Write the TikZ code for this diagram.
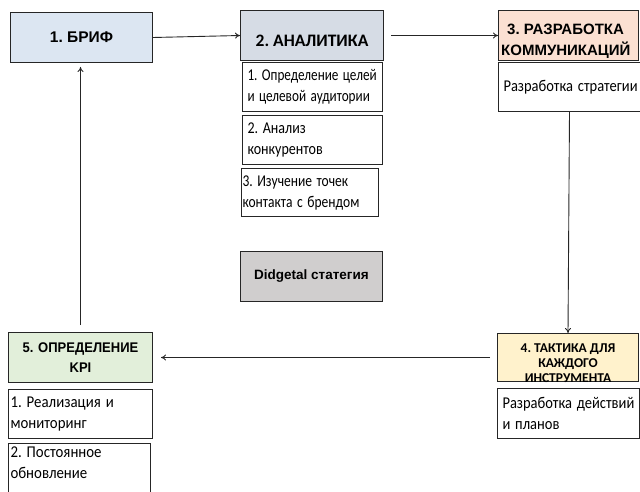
\documentclass[tikz,border=0pt]{standalone}
\usepackage{fontspec}
\usepackage{graphicx}
\setmainfont{Carlito}
\newfontfamily\arialf{Liberation Sans}
\newfontfamily\arialn[FakeStretch=0.93]{Liberation Sans}
\newfontfamily\calf{Carlito}
\newcommand\nar[2][0.85]{\scalebox{#1}[1]{#2}}
\usetikzlibrary{arrows.meta}
\definecolor{cbrief}{HTML}{DCE6F2}
\definecolor{canal}{HTML}{D6DCE5}
\definecolor{crazr}{HTML}{FBE0D2}
\definecolor{ctact}{HTML}{FFF2CC}
\definecolor{ckpi}{HTML}{E2EFDA}
\definecolor{cdig}{HTML}{D0CECE}
\tikzset{
  x=1pt,y=-1pt,
  box/.style={draw=black!85, line width=1pt, anchor=north west, inner sep=3pt},
  hdr/.style={box, align=center},
  lbl/.style={inner sep=0pt, align=center},
  sub/.style={box, fill=white, align=left, text width=#1, inner xsep=5pt, font=\calf\fontsize{16.5}{21}\selectfont},
  arr/.style={draw=black!85, line width=0.9pt, -{To[length=5pt,width=6pt]}}
}
\begin{document}
\frenchspacing
\begin{tikzpicture}
\useasboundingbox (0,0) rectangle (640,492);
% Box 1
\node[hdr, fill=cbrief, minimum width=142pt, minimum height=50pt, font=\arialf\bfseries\fontsize{15.5}{17}\selectfont] (b1) at (10,12) {1. БРИФ};
% Box 2
\node[box, fill=canal, minimum width=143pt, minimum height=50pt] (b2) at (240,10) {};
\node[lbl, font=\calf\bfseries\fontsize{17.5}{20}\selectfont] (b2t) at ([yshift=-5pt]b2.center) {2. АНАЛИТИКА};
\node[sub=130pt, minimum height=49pt] (b2a) at (242,62) {\nar[0.8]{1. Определение целей}\\ \nar[0.8]{и целевой аудитории}};
\node[sub=130pt, minimum height=49pt] (b2b) at (242,115) {\nar{2. Анализ}\\ \nar{конкурентов}};
\node[sub=135pt, minimum height=48pt, inner xsep=1pt] (b2c) at (241,168) {\nar[0.82]{3. Изучение точек}\\ \nar[0.82]{контакта с брендом}};
% Didgetal
\node[hdr, fill=cdig, minimum width=142pt, minimum height=50pt, font=\arialf\bfseries\fontsize{13.5}{15}\selectfont] (dg) at (240,251) {Didgetal статегия};
% Box 3
\node[box, fill=crazr, minimum width=140pt, minimum height=50pt] (b3) at (498,10) {};
\node[lbl, anchor=west, align=left, font=\arialf\bfseries\fontsize{15}{20.5}\selectfont] (b3t) at ([xshift=3pt,yshift=-6pt]b3.west) {\hspace*{6pt}3. РАЗРАБОТКА\\ КОММУНИКАЦИЙ};
\node[sub=132pt, minimum height=49pt] (b3a) at (498,62) {\nar[0.88]{Разработка стратегии}};
% Box 4
\node[box, fill=ctact, minimum width=141pt, minimum height=48pt] (b4) at (497,333) {};
\node[lbl, font=\calf\bfseries\fontsize{13.5}{15}\selectfont] (b4t) at ([yshift=-6pt]b4.center) {4. ТАКТИКА ДЛЯ\\ КАЖДОГО\\ ИНСТРУМЕНТА};
\node[sub=132pt, minimum height=50pt] (b4a) at (497,388) {\nar[0.88]{Разработка действий}\\ \nar[0.88]{и планов}};
% Box 5
\node[hdr, fill=ckpi, minimum width=144pt, minimum height=50pt, text width=138pt, font=\arialn\bfseries\fontsize{14}{20}\selectfont] (b5) at (8,332) {5. ОПРЕДЕЛЕНИЕ\\ KPI};
\node[sub=140pt, minimum height=49pt, inner xsep=2pt] (b5a) at (8,389) {\nar[0.9]{1. Реализация и}\\ \nar[0.9]{мониторинг}};
\node[sub=138pt, minimum height=60pt, inner xsep=2pt] (b5b) at (8,443) {\nar[0.9]{2. Постоянное}\\ \nar[0.9]{обновление}\\ \phantom{x}};
% Arrows
\draw[arr] (b1.east) -- (b2.west);
\draw[arr, shorten <=7pt] (b2.east) -- (b3.west);
\draw[arr] (b3a.south) -- (b4.north);
\draw[arr, shorten <=7pt, shorten >=8pt] (b4.west) -- (b5.east);
\draw[arr, shorten <=7pt, shorten >=4pt] (b5.north) -- (b1.south -| b5.north);
\end{tikzpicture}
\end{document}
